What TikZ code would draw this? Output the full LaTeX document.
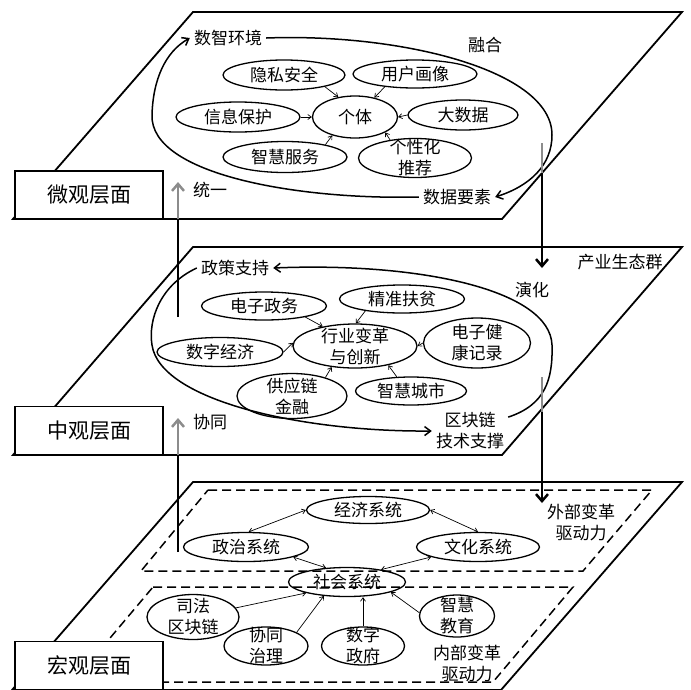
\documentclass[tikz,border=0pt]{standalone}
\usepackage{fontspec}
\setmainfont{Noto Sans CJK SC}
\usetikzlibrary{shapes.geometric,arrows.meta}
\tikzset{
  plane/.style={line width=1.8pt, line join=miter},
  dplane/.style={line width=1.5pt, dash pattern=on 9pt off 5pt},
  lvl/.style={draw, line width=1.6pt, fill=white, minimum width=148pt, minimum height=48pt, inner sep=0pt, font=\fontsize{21pt}{24pt}\selectfont},
  ell/.style 2 args={draw, ellipse, line width=1.3pt, inner sep=0pt, minimum width=#1, minimum height=#2},
  txt/.style={inner sep=4pt, align=center},
  sm/.style={line width=0.7pt, -{Straight Barb[length=3.5pt,width=5pt]}},
  dsm/.style={line width=0.7pt, {Straight Barb[length=3.5pt,width=5pt]}-{Straight Barb[length=3.5pt,width=5pt]}},
  big/.style={line width=1.5pt, -{Straight Barb[length=6pt,width=9pt]}},
  vline/.style={line width=2.5pt},
  vgray/.style={line width=2.5pt, draw=black!45},
  vhead/.style={-{Straight Barb[length=7pt,width=12pt]}}
}
\begin{document}
\begin{tikzpicture}[x=1pt,y=-1pt,font=\fontsize{17pt}{21pt}\selectfont]
\useasboundingbox (0,0) rectangle (691,689);
% planes
\draw[plane] (193,12) -- (682,12) -- (502,219) -- (13,219) -- cycle;
\draw[plane] (193,247) -- (682,247) -- (502,455) -- (13,455) -- cycle;
\draw[plane] (193,482) -- (682,482) -- (501,690) -- (12,690) -- cycle;
\draw[dplane] (208,490) -- (652,490) -- (583,571) -- (141,571) -- cycle;
\draw[dplane] (153,587) -- (573,587) -- (493,682) -- (73,682) -- cycle;
% level labels
\node[lvl] (L1) at (89,195) {微观层面};
\node[lvl] (L2) at (89,430.5) {中观层面};
\node[lvl] (L3) at (89,665.5) {宏观层面};

% ---------- micro layer ----------
\node[txt] (szhj) at (228,38) {数智环境};
\node[txt] (rh) at (485,45) {融合};
\node[txt] (ty) at (210,190) {统一};
\node[txt] (sjys) at (457,197) {数据要素};
\node[ell={122pt}{30pt}, label={[txt]center:隐私安全}] (ysaq) at (284,75) {};
\node[ell={124pt}{28pt}, label={[txt]center:用户画像}] (yhhx) at (415,74) {};
\node[ell={124pt}{30pt}, label={[txt]center:信息保护}] (xxbh) at (238,117) {};
\node[ell={85pt}{42pt}, label={[txt]center:个体}] (gt) at (355,117) {};
\node[ell={110pt}{30pt}, label={[txt]center:大数据}] (dsj) at (463,115) {};
\node[ell={124pt}{31pt}, label={[txt]center:智慧服务}] (zhfw) at (285,157) {};
\node[ell={113pt}{39pt}, label={[txt]center:个性化\\推荐}] (gxh) at (415,158) {};
\draw[sm] (ysaq.-16) -- (gt.130);
\draw[sm] (yhhx.203) -- (gt.45);
\draw[sm] (xxbh.east) -- (gt.west);
\draw[sm] (dsj.west) -- (gt.east);
\draw[sm] (zhfw.17) -- (gt.219);
\draw[sm] (gxh.144) -- (gt.333);
\draw[big] (szhj.east) .. controls (400,33) and (552,70) .. (552,135) .. controls (552,165) and (530,186) .. (sjys.east);
\draw[big] (sjys.west) .. controls (300,200) and (150,175) .. (152,115) .. controls (153,80) and (165,52) .. (szhj.west);

% ---------- meso layer ----------
\node[txt] (zczc) at (235,268) {政策支持};
\node[txt] (cyst) at (620,262) {产业生态群};
\node[txt] (yh) at (532,290) {演化};
\node[txt] (xt) at (210,422) {协同};
\node[txt] (qkl) at (470,431) {区块链\\技术支撑};
\node[ell={125pt}{28pt}, label={[txt]center:电子政务}] (dzzw) at (264,306) {};
\node[ell={125pt}{28pt}, label={[txt]center:精准扶贫}] (zzfp) at (402,299) {};
\node[ell={124pt}{44pt}, label={[txt]center:行业变革\\与创新}] (hybg) at (355,346) {};
\node[ell={126pt}{29pt}, label={[txt]center:数字经济}] (szjj) at (220,352) {};
\node[ell={107pt}{50pt}, label={[txt]center:电子健\\康记录}] (dzjk) at (477,343) {};
\node[ell={110pt}{45pt}, label={[txt]center:供应链\\金融}] (gyl) at (292,396) {};
\node[ell={111pt}{28pt}, label={[txt]center:智慧城市}] (zhcs) at (411,391) {};
\draw[sm] (dzzw.-15) -- (hybg.149);
\draw[sm] (zzfp.198) -- (hybg.88);
\draw[sm] (szjj.east) -- (hybg.177);
\draw[sm] (dzjk.west) -- (hybg.east);
\draw[sm] (gyl.29) -- (hybg.222);
\draw[sm] (zhcs.135) -- (hybg.-30);
\draw[big] (qkl.20) .. controls (545,405) and (553,380) .. (552,345) .. controls (550,290) and (420,262) .. (zczc.east);
\draw[big] (zczc.west) .. controls (160,285) and (148,320) .. (152,345) .. controls (160,400) and (300,432) .. (qkl.west);

% ---------- macro layer ----------
\node[txt] (wbbg) at (581,522) {外部变革\\驱动力};
\node[txt] (nbbg) at (467,663) {内部变革\\驱动力};
\node[ell={123pt}{27pt}, label={[txt]center:经济系统}] (jj) at (368,510) {};
\node[ell={125pt}{29pt}, label={[txt]center:政治系统}] (zz) at (246,547) {};
\node[ell={123pt}{29pt}, label={[txt]center:文化系统}] (wh) at (478,547) {};
\node[ell={117pt}{29pt}, label={[txt]center:社会系统}] (sh) at (347,582) {};
\node[ell={92pt}{45pt}, label={[txt]center:司法\\区块链}] (sf) at (193,617) {};
\node[ell={84pt}{38pt}, label={[txt]center:协同\\治理}] (xtzl) at (266,646) {};
\node[ell={83pt}{38pt}, label={[txt]center:数字\\政府}] (szzf) at (363,646) {};
\node[ell={75pt}{42pt}, label={[txt]center:智慧\\教育}] (zhjy) at (457,616) {};
\draw[dsm] (jj.west) -- (zz.80);
\draw[dsm] (jj.east) -- (wh.north);
\draw[dsm] (zz.-12) -- (sh.146);
\draw[dsm] (wh.192) -- (sh.20);
\draw[sm] (sf.12) -- (sh.195);
\draw[sm] (xtzl.24) -- (sh.211);
\draw[sm] (szzf.north) -- (szzf.north |- sh.south);
\draw[sm] (zhjy.175) -- (sh.-13);

% ---------- vertical arrows ----------
\coordinate (a1s) at (178,317); \coordinate (a1m) at (178,219); \coordinate (a1e) at (178,182);
\draw[vline] (a1s) -- (a1m);
\draw[vgray, vhead] (a1m) -- (a1e);
\coordinate (a2s) at (178,552); \coordinate (a2m) at (178,455); \coordinate (a2e) at (178,418);
\draw[vline] (a2s) -- (a2m);
\draw[vgray, vhead] (a2m) -- (a2e);
\coordinate (b1s) at (542,143); \coordinate (b1m) at (542,173); \coordinate (b1e) at (542,268);
\draw[vgray] (b1s) -- (b1m);
\draw[vline, vhead] (b1m) -- (b1e);
\coordinate (b2s) at (542,377); \coordinate (b2m) at (542,412); \coordinate (b2e) at (542,503);
\draw[vgray] (b2s) -- (b2m);
\draw[vline, vhead] (b2m) -- (b2e);
\end{tikzpicture}
\end{document}
